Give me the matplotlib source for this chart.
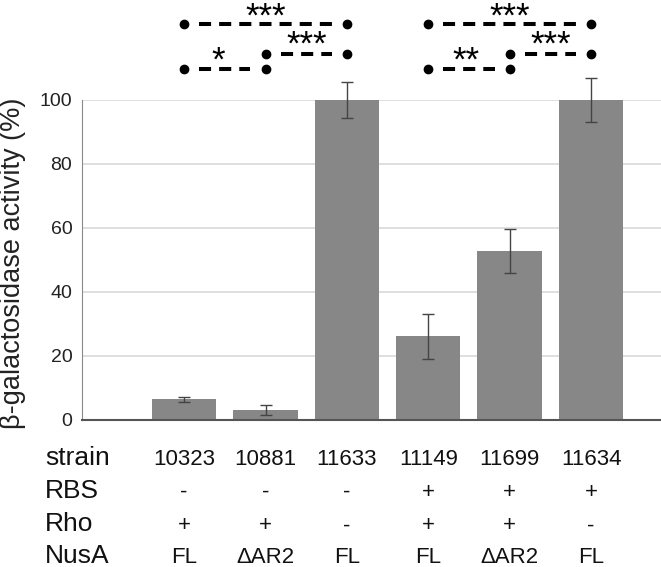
import matplotlib.pyplot as plt
import numpy as np

plt.rcParams['font.family'] = ['Liberation Sans', 'DejaVu Sans']

strains = ['10323', '10881', '11633', '11149', '11699', '11634']
rbs = ['-', '-', '-', '+', '+', '+']
rho = ['+', '+', '-', '+', '+', '-']
nusa = ['FL', '\u0394AR2', 'FL', 'FL', '\u0394AR2', 'FL']
activity = [6.5, 3.2, 100, 26.2, 52.8, 100]
errors = [0.8, 1.6, 5.6, 7.0, 7.0, 7.0]

# significance brackets: (left bar, right bar, stars, level)
brackets = [(0, 2, '***', 'top'), (1, 2, '***', 'mid'), (0, 1, '*', 'low'),
            (3, 5, '***', 'top'), (4, 5, '***', 'mid'), (3, 4, '**', 'low')]

fig = plt.figure(figsize=(6.61, 5.67), dpi=100)
ax = fig.add_axes([82/661, 147/567, 579/661, 320/567])

x = np.arange(len(strains))
ax.bar(x, activity, width=0.79, color='#878787', zorder=2)
ax.errorbar(x, activity, yerr=errors, fmt='none', ecolor='#444444',
            elinewidth=1.0, capsize=4, capthick=1.0, zorder=3, clip_on=False)

ax.set_xlim(-1.255, 5.86)
ax.set_ylim(0, 100)
ax.set_yticks([0, 20, 40, 60, 80, 100])
ax.set_xticks([])
ax.tick_params(axis='y', length=0, labelsize=14, pad=7, labelcolor='#222222')
ax.yaxis.grid(True, color='#d9d9d9', lw=1.2, zorder=0)
ax.set_axisbelow(True)
for s in ['top', 'right']:
  ax.spines[s].set_visible(False)
ax.spines['left'].set_color('#8a8a8a')
ax.spines['bottom'].set_color('#555555')
ax.spines['bottom'].set_linewidth(1.5)

fig.text(13/661, 1 - 263/567, '\u03b2-galactosidase activity (%)', rotation=90,
         ha='center', va='center', fontsize=19.5, color='#222222')

# brackets above the bars
levels = {'top': 123.8, 'mid': 114.4, 'low': 109.7}
star_base = {'top': 122.9, 'mid': 114.2}
inset = 0.185
for left, right, stars, lvl in brackets:
  y = levels[lvl]
  ax.plot([left, right], [y, y], 'o', color='black', ms=6, clip_on=False)
  ax.plot([left + inset, right - inset], [y, y], color='black', lw=2.9,
          ls=(0, (3, 2)), dash_capstyle='butt', clip_on=False)
  if lvl == 'low':
    sx = left + 0.42 + 0.04 * (len(stars) - 1)
    sy = 109.2
  else:
    sx = (left + right) / 2
    sy = star_base[lvl]
  ax.text(sx, sy, stars, ha='center', va='baseline', fontsize=25,
          clip_on=False)

# table under the chart
rows = [('strain', strains, -14.1), ('RBS', rbs, -24.4),
        ('Rho', rho, -34.8), ('NusA', nusa, -44.6)]
for label, vals, y in rows:
  ax.text(-1.71, y, label, ha='left', va='baseline', fontsize=19,
          color='#111111', clip_on=False)
  for xi, v in zip(x, vals):
    ax.text(xi, y, v, ha='center', va='baseline', fontsize=16,
            color='#111111', clip_on=False)

fig.savefig('out.png', dpi=100)
